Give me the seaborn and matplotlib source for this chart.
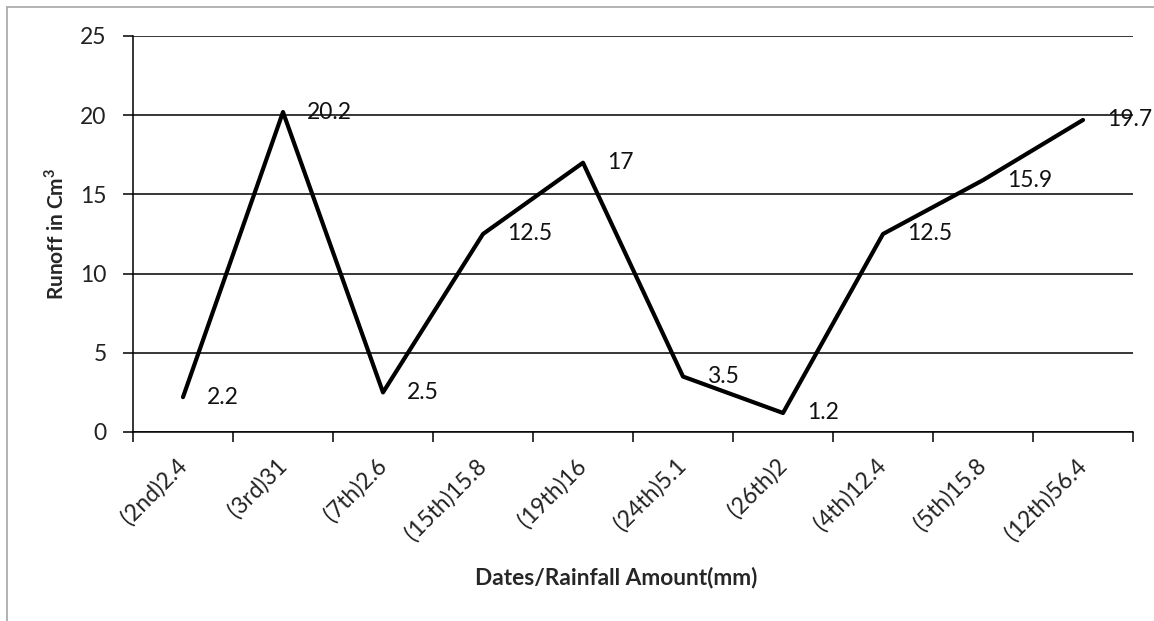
import matplotlib
matplotlib.use("Agg")
import matplotlib.pyplot as plt
from matplotlib.lines import Line2D
from matplotlib.ticker import FixedLocator
import seaborn as sns
import pandas as pd

# Rainfall event labels (date / rainfall in mm) and measured runoff
dates_rainfall = ["(2nd)2.4", "(3rd)31", "(7th)2.6", "(15th)15.8", "(19th)16",
                  "(24th)5.1", "(26th)2", "(4th)12.4", "(5th)15.8", "(12th)56.4"]
runoff = [2.2, 20.2, 2.5, 12.5, 17, 3.5, 1.2, 12.5, 15.9, 19.7]
y_ticks = [0, 5, 10, 15, 20, 25]

df = pd.DataFrame({"event": dates_rainfall, "runoff": runoff})

sns.set_theme(style="white")
plt.rcParams["font.family"] = ["Lato", "DejaVu Sans"]
plt.rcParams["mathtext.fontset"] = "custom"
plt.rcParams["mathtext.rm"] = "Lato"
plt.rcParams["mathtext.bf"] = "Lato:bold"

fig = plt.figure(figsize=(11.54, 6.21), dpi=100)
ax = fig.add_axes([133 / 1154, 1 - 432 / 621, 1000 / 1154, 396 / 621])

sns.lineplot(data=df, x="event", y="runoff", sort=False, color="black",
             linewidth=3, ax=ax, zorder=3)

tick_fs = 16.5
ax.set_ylim(0, 25)
ax.set_xlim(-0.5, len(dates_rainfall) - 0.5)
ax.set_yticks(y_ticks)
ax.set_yticklabels([str(t) for t in y_ticks], fontsize=tick_fs, color="#222222")
ax.yaxis.grid(True, color="black", linewidth=1.1)
ax.set_axisbelow(True)

# category labels at centres, tick marks on category boundaries
ax.set_xticks(range(len(dates_rainfall)))
ax.set_xticklabels(dates_rainfall, rotation=45, ha="right", va="center",
                   rotation_mode="anchor", fontsize=tick_fs, color="#222222")
ax.xaxis.set_minor_locator(FixedLocator([i - 0.5 for i in range(len(dates_rainfall) + 1)]))
ax.tick_params(axis="x", which="major", length=0, pad=22)
ax.tick_params(axis="x", which="minor", length=7, width=1.1, color="black", bottom=True)
ax.tick_params(axis="y", which="major", length=7, width=1.1, color="black", left=True, pad=12)

for side in ["top", "right"]:
    ax.spines[side].set_visible(False)
for side in ["left", "bottom"]:
    ax.spines[side].set_color("black")
    ax.spines[side].set_linewidth(1.1)

# value labels beside each point
for i, v in enumerate(runoff):
    ax.annotate(f"{v:g}", xy=(i, v), xytext=(17, 0), textcoords="offset points",
                ha="left", va="center", fontsize=tick_fs, color="#111111", zorder=4)

ax.set_xlabel("Dates/Rainfall Amount(mm)", fontsize=16.3, fontweight="bold")
ax.xaxis.set_label_coords(0.483, -0.341)
ax.set_ylabel(r"Runoff in Cm$^{\mathbf{3}}$", fontsize=15, fontweight="bold")
ax.yaxis.set_label_coords(-0.066, 0.5)

# outer chart frame
frame_color = "#a6a6a6"
fig.add_artist(Line2D([7 / 1154, 1], [1 - 7 / 621, 1 - 7 / 621],
                      transform=fig.transFigure, color=frame_color, linewidth=1.2))
fig.add_artist(Line2D([7 / 1154, 7 / 1154], [0, 1 - 7 / 621],
                      transform=fig.transFigure, color=frame_color, linewidth=1.2))

fig.savefig("out.png", dpi=100, facecolor="white")
